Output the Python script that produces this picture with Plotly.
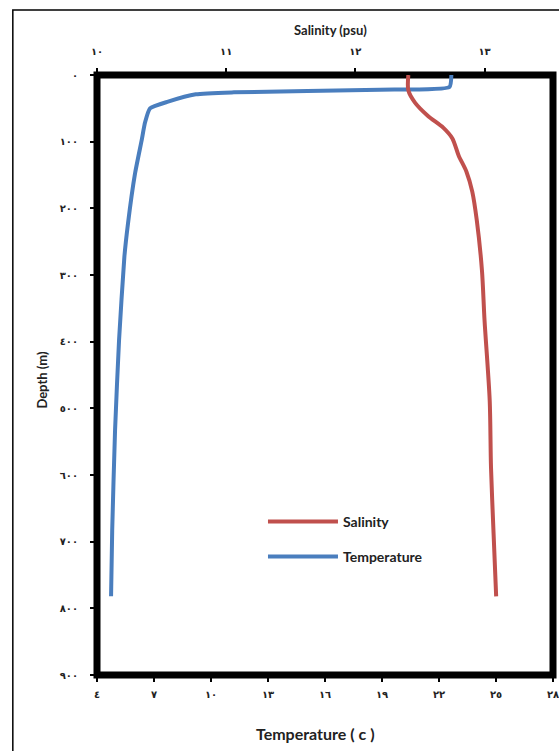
import plotly.graph_objects as go

# ---- data ----
temp_depth = [0, 18, 22, 26, 29, 40, 50, 71, 98, 148, 223, 273, 398, 533, 683, 782]
temp_values = [22.65, 22.55, 18.9, 11.2, 9.2, 7.74, 6.79, 6.53, 6.35, 6.0, 5.63, 5.44, 5.16, 4.95, 4.8, 4.74]

sal_depth = [0, 23, 41, 61, 79, 95, 121, 145, 175, 218, 293, 368, 488, 588, 688, 782]
sal_values = [12.41, 12.41, 12.46, 12.56, 12.68, 12.75, 12.80, 12.86, 12.905, 12.94, 12.98, 13.0, 13.04, 13.05, 13.07, 13.09]

depth_ticks = [0, 100, 200, 300, 400, 500, 600, 700, 800, 900]
depth_labels = ["٠", "١٠٠", "٢٠٠", "٣٠٠", "٤٠٠", "٥٠٠", "٦٠٠", "٧٠٠", "٨٠٠", "٩٠٠"]
temp_ticks = [4, 7, 10, 13, 16, 19, 22, 25, 28]
temp_labels = ["٤", "٧", "١٠", "١٣", "١٦", "١٩", "٢٢", "٢٥", "٢٨"]
sal_ticks = [10, 11, 12, 13]
sal_labels = ["١٠", "١١", "١٢", "١٣"]

RED = "#C0504D"
BLUE = "#4A7EBE"
TICKFONT = dict(family="DejaVu Sans", size=10, color="#222", weight="bold")
TITLEFONT = "Lato"

fig = go.Figure()
fig.add_trace(go.Scatter(
    x=sal_values, y=sal_depth, xaxis="x2", yaxis="y", mode="lines",
    name="Salinity", line=dict(color=RED, width=4, shape="spline", smoothing=0.8),
    legend="legend",
))
fig.add_trace(go.Scatter(
    x=temp_values, y=temp_depth, xaxis="x", yaxis="y", mode="lines",
    name="Temperature", line=dict(color=BLUE, width=4, shape="spline", smoothing=0.5),
    legend="legend2",
))

axis_common = dict(showgrid=False, zeroline=False, showline=False,
                   ticks="outside", ticklen=6, tickwidth=2, tickcolor="black",
                   tickfont=TICKFONT, ticklabeloverflow="allow", automargin=False)

fig.update_layout(
    width=559, height=751,
    margin=dict(l=97, r=6, t=75, b=76, autoexpand=False),
    paper_bgcolor="white", plot_bgcolor="white",
    xaxis=dict(range=[4, 28], tickvals=temp_ticks, ticktext=temp_labels,
               ticklabelstandoff=4, **axis_common),
    xaxis2=dict(range=[10, 13.53], tickvals=sal_ticks, ticktext=sal_labels,
                overlaying="x", side="top", ticklabelstandoff=9, **axis_common),
    yaxis=dict(range=[900, 0], tickvals=depth_ticks, ticktext=depth_labels,
               ticklabelstandoff=10, **axis_common),
    legend=dict(x=0.364, y=0.255, xanchor="left", yanchor="middle",
                bgcolor="rgba(0,0,0,0)", itemwidth=70,
                font=dict(family=TITLEFONT, size=14, color="#222", weight="bold")),
    legend2=dict(x=0.364, y=0.197, xanchor="left", yanchor="middle",
                 bgcolor="rgba(0,0,0,0)", itemwidth=70,
                 font=dict(family=TITLEFONT, size=14, color="#222", weight="bold")),
    showlegend=True,
    shapes=[
        dict(type="rect", xref="paper", yref="paper", x0=0, x1=1, y0=0, y1=1,
             line=dict(color="black", width=7), layer="below"),
        dict(type="rect", xref="paper", yref="paper", x0=-0.1846, x1=1.05, y0=-0.15, y1=1.1083,
             line=dict(color="black", width=1.5), layer="below"),
    ],
    annotations=[
        dict(text="<b>Salinity (psu)</b>", xref="paper", yref="paper", x=0.512, y=1.075,
             xanchor="center", yanchor="middle",
             showarrow=False, font=dict(family=TITLEFONT, size=13, color="#222")),
        dict(text="<b>Temperature ( c )</b>", xref="paper", yref="paper", x=0.479, y=-0.0967,
             xanchor="center", yanchor="middle",
             showarrow=False, font=dict(family=TITLEFONT, size=16, color="#222")),
        dict(text="<b>Depth (m)</b>", xref="paper", yref="paper", x=-0.121, y=0.492,
             xanchor="center", yanchor="middle",
             textangle=-90, showarrow=False, font=dict(family=TITLEFONT, size=13, color="#222")),
    ],
)

fig.write_html("out.html", config={"displayModeBar": False},
               post_script="document.body.style.margin='0';")
